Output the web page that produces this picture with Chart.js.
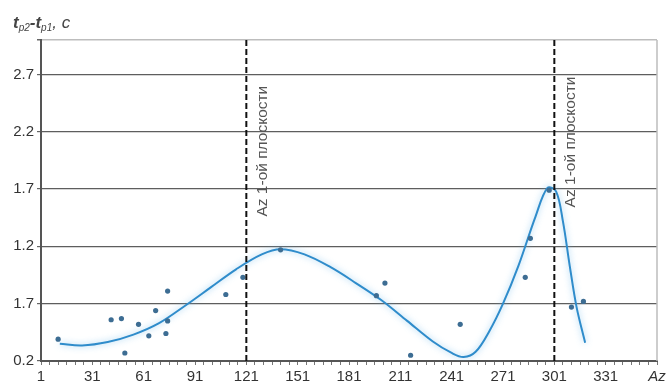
<!DOCTYPE html>
<html>
<head>
<meta charset="utf-8">
<script src="https://cdn.jsdelivr.net/npm/chart.js@4"></script>
<style>
  html, body { margin: 0; padding: 0; background: #fff; }
  #wrap { width: 672px; height: 390px; }
</style>
</head>
<body>
<div id="wrap"><canvas id="c" width="672" height="390"></canvas></div>
<script>
// Measured delays between the two arrivals versus azimuth
const pointAz = [11, 42, 48, 50, 58, 64, 68, 74, 75, 75, 109, 119, 141, 197, 202, 217, 246, 284, 287, 298, 311, 318];
const pointDt = [0.39, 0.56, 0.57, 0.27, 0.52, 0.42, 0.64, 0.44, 0.55, 0.81, 0.78, 0.93, 1.17, 0.77, 0.88, 0.25, 0.52, 0.93, 1.27, 1.69, 0.67, 0.72];

// Approximating curve
const curveAz = [12, 25, 40, 55, 70, 85, 100, 115, 130, 141, 155, 170, 185, 200, 215, 230, 241, 248, 255, 263, 271, 280, 290, 297, 302, 306, 310, 314, 319];
const curveDt = [0.35, 0.335, 0.365, 0.43, 0.53, 0.68, 0.84, 1.00, 1.13, 1.175, 1.13, 1.02, 0.88, 0.73, 0.55, 0.37, 0.27, 0.235, 0.28, 0.46, 0.70, 1.03, 1.46, 1.71, 1.68, 1.42, 1.03, 0.67, 0.36];

// Azimuths of the first plane
const planeAz = [121, 301];
const planeLabel = 'Az 1-ой плоскости';

// Axis ticks
const yTickValues = [0.2, 0.7, 1.2, 1.7, 2.2, 2.7, 3.0];
const yTickLabels = ['0.2', '1.7', '1.2', '1.7', '2.2', '2.7', ''];
const xTickLabels = ['1', '31', '61', '91', '121', '151', '181', '211', '241', '271', '301', '331', 'Az'];
const xMin = 1, xMax = 361, xMinorStep = 5, xLabelStep = 30;
const yMin = 0.2, yMax = 3.0;

const FONT = "'Liberation Sans Narrow', 'Liberation Sans', Arial, sans-serif";
const LINE_BLUE = '#2f8ccb';
const POINT_BLUE = '#3d6d93';

const toXY = (xs, ys) => xs.map((x, i) => ({ x: x, y: ys[i] }));

const planeSets = planeAz.map(az => ({
  type: 'scatter',
  label: 'plane ' + az,
  data: [{ x: az, y: yMin }, { x: az, y: yMax }],
  showLine: true,
  borderColor: '#111',
  borderWidth: 2,
  borderDash: [6, 3],
  pointRadius: 0,
  tension: 0,
  order: 0
}));

const glowPlugin = {
  id: 'curveGlow',
  beforeDatasetDraw(chart, args) {
    if (args.index === 0) {
      const ctx = chart.ctx;
      ctx.save();
      ctx.shadowColor = 'rgba(110,185,235,0.75)';
      ctx.shadowBlur = 6;
    }
  },
  afterDatasetDraw(chart, args) {
    if (args.index === 0) chart.ctx.restore();
  }
};

const decorPlugin = {
  id: 'decor',
  beforeDatasetsDraw(chart) {
    const { ctx, chartArea: a } = chart;
    ctx.save();
    ctx.strokeStyle = '#bdbdbd';
    ctx.lineWidth = 1.5;
    ctx.beginPath();
    ctx.moveTo(a.right, a.top);
    ctx.lineTo(a.right, a.bottom);
    ctx.stroke();
    ctx.restore();
  },
  afterDraw(chart) {
    const { ctx, scales } = chart;
    const xs = scales.x, ys = scales.y;
    ctx.save();
    // vertical captions next to the plane lines
    ctx.fillStyle = '#555';
    ctx.font = '15.5px ' + FONT;
    ctx.textBaseline = 'middle';
    ctx.textAlign = 'left';
    const bottoms = [ys.getPixelForValue(1.46), ys.getPixelForValue(1.54)];
    planeAz.forEach((az, i) => {
      const px = xs.getPixelForValue(az) + 16;
      ctx.save();
      ctx.translate(px, bottoms[i]);
      ctx.rotate(-Math.PI / 2);
      ctx.fillText(planeLabel, 0, 0);
      ctx.restore();
    });
    // y axis title: t_p2 - t_p1, c
    ctx.fillStyle = '#444';
    ctx.textBaseline = 'alphabetic';
    let x = 13;
    const base = 28;
    const part = (txt, font, dy) => {
      ctx.font = font;
      ctx.fillText(txt, x, base + dy);
      x += ctx.measureText(txt).width;
    };
    part('t', 'italic bold 17px ' + FONT, 0);
    part('p2', 'italic 10px ' + FONT, 3);
    part('-t', 'italic bold 17px ' + FONT, 0);
    part('p1', 'italic 10px ' + FONT, 3);
    part(', c', 'italic 17px ' + FONT, 0);
    ctx.restore();
  }
};

new Chart(document.getElementById('c'), {
  type: 'scatter',
  data: {
    datasets: [
      {
        type: 'scatter',
        label: 'curve',
        data: toXY(curveAz, curveDt),
        showLine: true,
        borderColor: LINE_BLUE,
        borderWidth: 2,
        pointRadius: 0,
        tension: 0.35,
        order: 2
      },
      {
        type: 'scatter',
        label: 'points',
        data: toXY(pointAz, pointDt),
        backgroundColor: POINT_BLUE,
        borderColor: POINT_BLUE,
        pointRadius: 2.6,
        pointBorderWidth: 0,
        order: 1
      },
      ...planeSets
    ]
  },
  options: {
    responsive: false,
    animation: false,
    devicePixelRatio: 1,
    layout: { padding: { top: 40, right: 15, left: 0, bottom: 0 } },
    plugins: { legend: { display: false }, tooltip: { enabled: false } },
    scales: {
      x: {
        type: 'linear',
        min: xMin,
        max: xMax,
        afterBuildTicks(scale) {
          const t = [];
          for (let v = xMin; v <= xMax; v += xMinorStep) t.push({ value: v });
          scale.ticks = t;
        },
        afterFit(scale) { scale.height = 29; },
        ticks: {
          autoSkip: false,
          maxRotation: 0,
          padding: 3,
          color: '#333',
          font: (ctx) => ({
            family: FONT,
            size: 15,
            style: ctx.tick && ctx.tick.value === xMax ? 'italic' : 'normal'
          }),
          callback(v) {
            if ((v - xMin) % xLabelStep !== 0) return '';
            return xTickLabels[(v - xMin) / xLabelStep];
          }
        },
        grid: {
          drawOnChartArea: false,
          drawTicks: true,
          tickLength: 4,
          tickColor: '#777',
          tickWidth: 1
        },
        border: { color: '#555', width: 2 }
      },
      y: {
        type: 'linear',
        min: yMin,
        max: yMax,
        afterBuildTicks(scale) {
          scale.ticks = yTickValues.map(v => ({ value: v }));
        },
        afterFit(scale) { scale.width = 41; },
        ticks: {
          autoSkip: false,
          padding: 3,
          color: '#333',
          font: { family: FONT, size: 15 },
          callback(v) {
            const i = yTickValues.findIndex(t => Math.abs(t - v) < 1e-6);
            return i >= 0 ? yTickLabels[i] : '';
          }
        },
        grid: {
          color: (ctx) => (ctx.tick && ctx.tick.value === yMax ? '#bdbdbd' : '#5e5e5e'),
          lineWidth: (ctx) => (ctx.tick && ctx.tick.value === yMax ? 1.5 : 1.2),
          drawTicks: true,
          tickLength: 4,
          tickColor: '#666'
        },
        border: { color: '#555', width: 2 }
      }
    }
  },
  plugins: [glowPlugin, decorPlugin]
});
</script>
</body>
</html>
